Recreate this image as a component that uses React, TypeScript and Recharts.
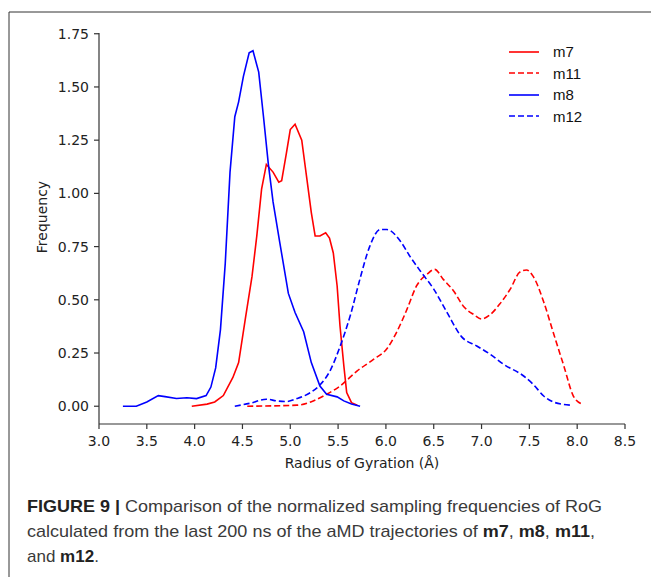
import { LineChart, Line, XAxis, YAxis, Label } from "recharts"

// Radius of gyration (Å) / normalized frequency
const m7Rog = [3.97, 4.13, 4.21, 4.3, 4.4, 4.46, 4.53, 4.6, 4.65, 4.7, 4.75, 4.82, 4.88, 4.91, 4.96, 5.0, 5.05, 5.12, 5.17, 5.22, 5.26, 5.31, 5.37, 5.41, 5.45, 5.49, 5.52, 5.56, 5.59, 5.64, 5.7]
const m7Freq = [0, 0.01, 0.02, 0.05, 0.135, 0.205, 0.41, 0.61, 0.8, 1.02, 1.136, 1.1, 1.053, 1.06, 1.19, 1.3, 1.325, 1.25, 1.08, 0.91, 0.8, 0.8, 0.815, 0.79, 0.72, 0.565, 0.377, 0.19, 0.064, 0.017, 0.005]

const m11Rog = [4.55, 5.07, 5.24, 5.38, 5.52, 5.7, 5.87, 6.01, 6.11, 6.22, 6.32, 6.43, 6.51, 6.6, 6.71, 6.81, 6.92, 7.0, 7.09, 7.19, 7.3, 7.4, 7.47, 7.54, 7.65, 7.75, 7.86, 7.96, 8.05]
const m11Freq = [0, 0.005, 0.025, 0.056, 0.095, 0.166, 0.22, 0.27, 0.346, 0.455, 0.565, 0.62, 0.643, 0.596, 0.54, 0.47, 0.43, 0.41, 0.43, 0.48, 0.55, 0.63, 0.64, 0.61, 0.49, 0.346, 0.19, 0.048, 0.01]

const m8Rog = [3.25, 3.39, 3.5, 3.62, 3.69, 3.81, 3.92, 4.02, 4.12, 4.17, 4.22, 4.27, 4.32, 4.37, 4.42, 4.46, 4.51, 4.57, 4.61, 4.67, 4.72, 4.77, 4.82, 4.89, 4.98, 5.05, 5.14, 5.22, 5.31, 5.38, 5.49, 5.56, 5.64, 5.73]
const m8Freq = [0, 0, 0.02, 0.05, 0.045, 0.036, 0.04, 0.036, 0.05, 0.09, 0.18, 0.36, 0.67, 1.1, 1.36, 1.43, 1.55, 1.66, 1.67, 1.57, 1.36, 1.14, 0.96, 0.77, 0.53, 0.44, 0.35, 0.205, 0.095, 0.056, 0.044, 0.025, 0.01, 0]

const m12Rog = [4.42, 4.58, 4.75, 4.86, 4.96, 5.07, 5.21, 5.31, 5.42, 5.52, 5.63, 5.73, 5.83, 5.94, 6.01, 6.15, 6.25, 6.36, 6.5, 6.64, 6.79, 6.95, 7.09, 7.23, 7.44, 7.54, 7.65, 7.75, 7.93]
const m12Freq = [0, 0.014, 0.033, 0.025, 0.022, 0.036, 0.064, 0.1, 0.17, 0.28, 0.43, 0.6, 0.75, 0.83, 0.83, 0.776, 0.705, 0.635, 0.55, 0.44, 0.327, 0.283, 0.244, 0.197, 0.142, 0.103, 0.048, 0.02, 0.005]

const xTicks = [3.0, 3.5, 4.0, 4.5, 5.0, 5.5, 6.0, 6.5, 7.0, 7.5, 8.0, 8.5]
const yTicks = [0, 0.25, 0.5, 0.75, 1.0, 1.25, 1.5, 1.75]

const toPoints = (rog: number[], freq: number[]) => rog.map((x, i) => ({ rog: x, freq: freq[i] }))

const series = [
  { name: "m7", data: toPoints(m7Rog, m7Freq), color: "#ff0000", dash: undefined, curve: "linear" },
  { name: "m11", data: toPoints(m11Rog, m11Freq), color: "#ff0000", dash: "6 3", curve: "monotone" },
  { name: "m8", data: toPoints(m8Rog, m8Freq), color: "#0000ff", dash: undefined, curve: "linear" },
  { name: "m12", data: toPoints(m12Rog, m12Freq), color: "#0000ff", dash: "6 3", curve: "monotone" },
]

const tickFont = { fontFamily: "DejaVu Sans", fontSize: 14, fill: "#222" }
const spine = { stroke: "#333", strokeWidth: 1.2 }

// legend drawn outside the chart so it doesn't eat plot space
function ChartLegend() {
  return (
    <div style={{ position: "absolute", left: 507, top: 41, fontFamily: "Liberation Sans, Arial", fontSize: 15, color: "#111", lineHeight: 1 }}>
      {series.map((s) => (
        <div key={s.name} style={{ display: "flex", alignItems: "center", height: 21.5 }}>
          <svg width={34} height={10} style={{ marginRight: 12 }}>
            <line x1={2} y1={5} x2={32} y2={5} stroke={s.color} strokeWidth={1.6} strokeDasharray={s.dash} />
          </svg>
          <span>{s.name}</span>
        </div>
      ))}
    </div>
  )
}

export default function App() {
  return (
    <div style={{ position: "absolute", left: 0, top: 0, width: 651, height: 577, background: "#fff", overflow: "hidden" }}>
      <svg width={651} height={577} style={{ position: "absolute", left: 0, top: 0 }}>
        <line x1={9} y1={12} x2={651} y2={12} stroke="#333" strokeWidth={1} />
        <line x1={9} y1={12} x2={9} y2={577} stroke="#333" strokeWidth={1} />
        <g fontFamily="Liberation Sans, Arial" fontSize={17} fill="#3a3a3a">
          <text x={27} y={512} textLength={575} lengthAdjust="spacingAndGlyphs">
            <tspan fontWeight={700} fill="#222">FIGURE 9 |</tspan> Comparison of the normalized sampling frequencies of RoG
          </text>
          <text x={27} y={537} textLength={568} lengthAdjust="spacingAndGlyphs">
            calculated from the last 200 ns of the aMD trajectories of <tspan fontWeight={700} fill="#222">m7</tspan>, <tspan fontWeight={700} fill="#222">m8</tspan>, <tspan fontWeight={700} fill="#222">m11</tspan>,
          </text>
          <text x={27} y={562}>
            and <tspan fontWeight={700} fill="#222">m12</tspan>.
          </text>
        </g>
      </svg>
      <div style={{ position: "absolute", left: 0, top: 0 }}>
        <LineChart width={651} height={480} margin={{ top: 33, right: 26, bottom: 26, left: 39 }}>
          <XAxis
            dataKey="rog"
            type="number"
            domain={[3, 8.5]}
            ticks={xTicks}
            allowDataOverflow
            tickFormatter={(v: number) => v.toFixed(1)}
            tick={tickFont}
            tickSize={5}
            tickMargin={7}
            height={30}
            axisLine={spine}
            tickLine={spine}
          >
            <Label
              content={() => (
                <text x={362} y={463} textAnchor="middle" dominantBaseline="central" fontFamily="DejaVu Sans" fontSize={14} fill="#222">
                  Radius of Gyration (Å)
                </text>
              )}
            />
          </XAxis>
          <XAxis xAxisId="top" orientation="top" type="number" domain={[3, 8.5]} tick={false} tickLine={false} height={0} axisLine={spine} />
          <YAxis
            type="number"
            domain={[-0.0835, 1.7535]}
            ticks={yTicks}
            allowDataOverflow
            tickFormatter={(v: number) => v.toFixed(2)}
            tick={tickFont}
            tickSize={5}
            tickMargin={5}
            width={60}
            axisLine={spine}
            tickLine={spine}
          >
            <Label
              content={() => (
                <text x={42} y={217} transform="rotate(-90 42 217)" textAnchor="middle" dominantBaseline="central" fontFamily="DejaVu Sans" fontSize={14} fill="#222">
                  Frequency
                </text>
              )}
            />
          </YAxis>
          <YAxis yAxisId="right" orientation="right" type="number" domain={[-0.0835, 1.7535]} tick={false} tickLine={false} width={0} axisLine={spine} />
          {series.map((s) => (
            <Line
              key={s.name}
              name={s.name}
              data={s.data}
              dataKey="freq"
              type={s.curve as "linear" | "monotone"}
              stroke={s.color}
              strokeWidth={1.6}
              strokeDasharray={s.dash}
              dot={false}
              activeDot={false}
              isAnimationActive={false}
            />
          ))}
        </LineChart>
      </div>
      <ChartLegend />
    </div>
  )
}
